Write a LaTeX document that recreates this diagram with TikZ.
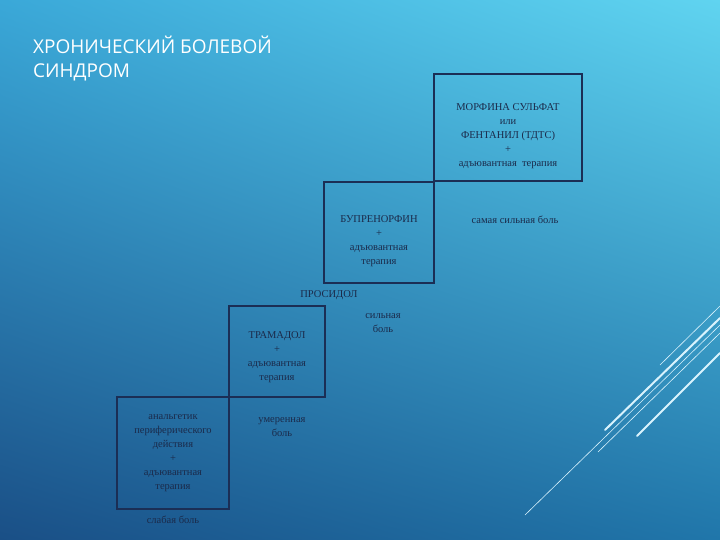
\documentclass[tikz,border=0pt]{standalone}
\usepackage{fontspec}
\usetikzlibrary{shadings}
\setmainfont{Liberation Serif}
\newfontfamily\titlefont{Open Sans}
\begin{document}
\begin{tikzpicture}[x=1pt,y=-1pt,
  box/.style={draw=boxcol,line width=1.1pt},
  lbl/.style={text=txtcol,font=\fontsize{10.5}{14}\selectfont,align=center,inner sep=0pt},
  deco/.style={draw=white!85!cyan,line cap=round}]
\definecolor{boxcol}{HTML}{1B2E55}
\definecolor{txtcol}{HTML}{1B2A4A}
\definecolor{cLL}{HTML}{1A4F86}
\definecolor{cUR}{HTML}{60D4F0}
\definecolor{cUL}{HTML}{3AA8D8}
\definecolor{cLR}{HTML}{2076AA}
\shade[upper left=cUL, upper right=cUR, lower left=cLL, lower right=cLR] (0,540) rectangle (720,0);
\useasboundingbox (0,0) rectangle (720,540);
\node[anchor=west,text=white,font=\titlefont\fontsize{19}{24}\selectfont,align=left,inner sep=0pt] (title) at (33,59) {ХРОНИЧЕСКИЙ БОЛЕВОЙ\\СИНДРОМ};
\draw[box] (117,397) rectangle (229,509);
\draw[box] (229,306) rectangle (325,397);
\draw[box] (324,182) rectangle (434,283);
\draw[box] (434,74) rectangle (582,181);
\node[lbl] (b1) at (173,453) {анальгетик\\периферического\\действия\\+\\адъювантная\\терапия};
\node[lbl] (l1) at (173,520) {слабая боль};
\node[lbl] (b2) at (277,357) {ТРАМАДОЛ\\+\\адъювантная\\терапия};
\node[lbl] (l2) at (282,427) {умеренная\\боль};
\node[lbl] (pr) at (329,295) {ПРОСИДОЛ};
\node[lbl] (l3) at (383,323) {сильная\\боль};
\node[lbl] (b3) at (379,241) {БУПРЕНОРФИН\\+\\адъювантная\\терапия};
\node[lbl] (l4) at (515,220) {самая сильная боль};
\node[lbl] (b4) at (508,136) {МОРФИНА СУЛЬФАТ\\или\\ФЕНТАНИЛ (ТДТС)\\+\\адъювантная\ \ терапия};
\draw[deco,line width=0.6pt] (525,515) -- (720,325);
\draw[deco,line width=0.6pt] (598,452) -- (720,333);
\draw[deco,line width=2pt] (605,430) -- (720,318);
\draw[deco,line width=2pt] (637,436) -- (720,353);
\draw[deco,line width=0.6pt] (660,365) -- (720,306);
\end{tikzpicture}
\end{document}
